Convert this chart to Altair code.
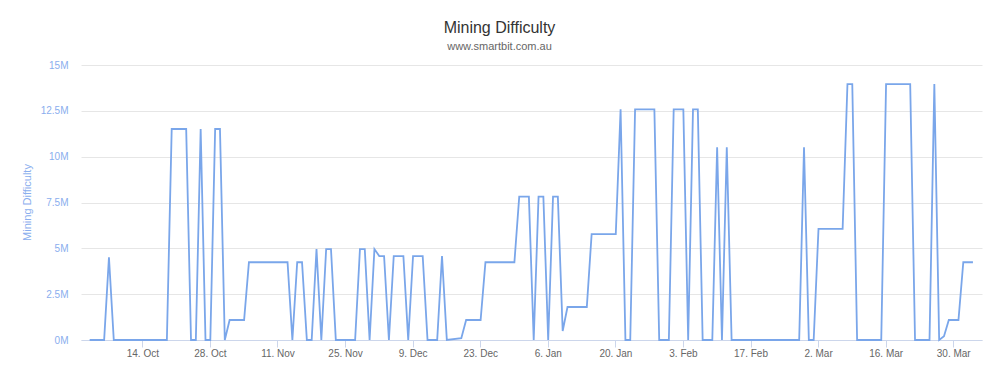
import altair as alt
import pandas as pd

dates = [
    "2019-10-03", "2019-10-06", "2019-10-07", "2019-10-08", "2019-10-19", "2019-10-20",
    "2019-10-23", "2019-10-24", "2019-10-25", "2019-10-26", "2019-10-27", "2019-10-28",
    "2019-10-29", "2019-10-30", "2019-10-31", "2019-11-01", "2019-11-04", "2019-11-05",
    "2019-11-13", "2019-11-14", "2019-11-15", "2019-11-16", "2019-11-17", "2019-11-18",
    "2019-11-19", "2019-11-20", "2019-11-21", "2019-11-22", "2019-11-23", "2019-11-27",
    "2019-11-28", "2019-11-29", "2019-11-30", "2019-12-01", "2019-12-02", "2019-12-03",
    "2019-12-04", "2019-12-05", "2019-12-07", "2019-12-08", "2019-12-09", "2019-12-11",
    "2019-12-12", "2019-12-14", "2019-12-15", "2019-12-16", "2019-12-19", "2019-12-20",
    "2019-12-23", "2019-12-24", "2019-12-30", "2019-12-31", "2020-01-02", "2020-01-03",
    "2020-01-04", "2020-01-05", "2020-01-06", "2020-01-07", "2020-01-08", "2020-01-09",
    "2020-01-10", "2020-01-14", "2020-01-15", "2020-01-20", "2020-01-21", "2020-01-22",
    "2020-01-23", "2020-01-24", "2020-01-28", "2020-01-29", "2020-01-31", "2020-02-01",
    "2020-02-03", "2020-02-04", "2020-02-05", "2020-02-06", "2020-02-07", "2020-02-09",
    "2020-02-10", "2020-02-11", "2020-02-12", "2020-02-13", "2020-02-27", "2020-02-28",
    "2020-02-29", "2020-03-01", "2020-03-02", "2020-03-07", "2020-03-08", "2020-03-09",
    "2020-03-10", "2020-03-15", "2020-03-16", "2020-03-21", "2020-03-22", "2020-03-25",
    "2020-03-26", "2020-03-27", "2020-03-28", "2020-03-29", "2020-03-31", "2020-04-01",
    "2020-04-03",
]

difficulty_m = [
    0, 0, 4.51, 0, 0, 11.51,
    11.51, 0, 0, 11.51, 0, 0,
    11.51, 11.51, 0, 1.09, 1.09, 4.24,
    4.24, 0, 4.24, 4.24, 0, 0,
    4.96, 0, 4.96, 4.96, 0, 0,
    4.96, 4.96, 0, 4.96, 4.58, 4.58,
    0, 4.58, 4.58, 0, 4.58, 4.58,
    0, 0, 4.58, 0, 0.1, 1.09,
    1.09, 4.24, 4.24, 7.82, 7.82, 0,
    7.82, 7.82, 0, 7.82, 7.82, 0.49,
    1.8, 1.8, 5.77, 5.77, 12.58, 0,
    0, 12.58, 12.58, 0, 0, 12.58,
    12.58, 0, 12.58, 12.58, 0, 0,
    10.51, 0, 10.51, 0, 0, 10.51,
    0, 0, 6.06, 6.06, 13.96, 13.96,
    0, 0, 13.96, 13.96, 0, 0,
    13.96, 0, 0.2, 1.09, 1.09, 4.24,
    4.24,
]

y_ticks = [0, 2500000, 5000000, 7500000, 10000000, 12500000, 15000000]
x_tick_dates = [
    (2019, 10, 14), (2019, 10, 28), (2019, 11, 11), (2019, 11, 25), (2019, 12, 9),
    (2019, 12, 23), (2020, 1, 6), (2020, 1, 20), (2020, 2, 3), (2020, 2, 17),
    (2020, 3, 2), (2020, 3, 16), (2020, 3, 30),
]

df = pd.DataFrame({
    "date": [d + "T02:00:00" for d in dates],
    "difficulty": [v * 1_000_000 for v in difficulty_m],
})

x_values = [alt.DateTime(year=y, month=m, date=d) for (y, m, d) in x_tick_dates]

FONT = "Liberation Sans"
BLUE = "#7aa6ea"
LABEL_BLUE = "#8aaeee"

chart = alt.Chart(df).mark_line(color=BLUE, strokeWidth=1.8).encode(
    x=alt.X(
        "date:T",
        scale=alt.Scale(domain=[
            alt.DateTime(year=2019, month=10, date=1, hours=7),
            alt.DateTime(year=2020, month=4, date=4, hours=23),
        ]),
        axis=alt.Axis(
            values=x_values, format="%-d. %b", title=None, grid=False,
            domainColor="#ccd6eb", tickColor="#ccd6eb", tickSize=7,
            labelColor="#666666", labelFontSize=10, labelFont=FONT,
            labelPadding=1, labelFlush=False,
        ),
    ),
    y=alt.Y(
        "difficulty:Q",
        scale=alt.Scale(domain=[0, 15000000], nice=False),
        axis=alt.Axis(
            values=y_ticks, labelExpr="(datum.value / 1000000) + 'M'",
            title="Mining Difficulty", titleColor=LABEL_BLUE, titleFontSize=11,
            titleFont=FONT, titleFontWeight="normal", titleAngle=270,
            titleX=-54, titleY=137, titleAlign="center", titleBaseline="middle",
            labelColor=LABEL_BLUE, labelFontSize=10, labelFont=FONT,
            labelPadding=13, domain=False, ticks=False,
            gridColor="#e6e6e6", gridWidth=1,
        ),
    ),
).properties(
    width=901,
    height=275,
    autosize=alt.AutoSizeParams(type="none"),
    padding={"left": 73, "top": 57, "right": 9, "bottom": 40},
    title=alt.TitleParams(
        text="Mining Difficulty",
        subtitle="www.smartbit.com.au",
        anchor="middle", dx=-32, offset=8,
        font=FONT, fontSize=16, fontWeight="normal", color="#333333",
        subtitleFont=FONT, subtitleFontSize=11, subtitleColor="#666666",
        subtitlePadding=5,
    ),
).configure_view(stroke=None)

chart.save("out.html", embed_options={"renderer": "svg", "actions": False})
